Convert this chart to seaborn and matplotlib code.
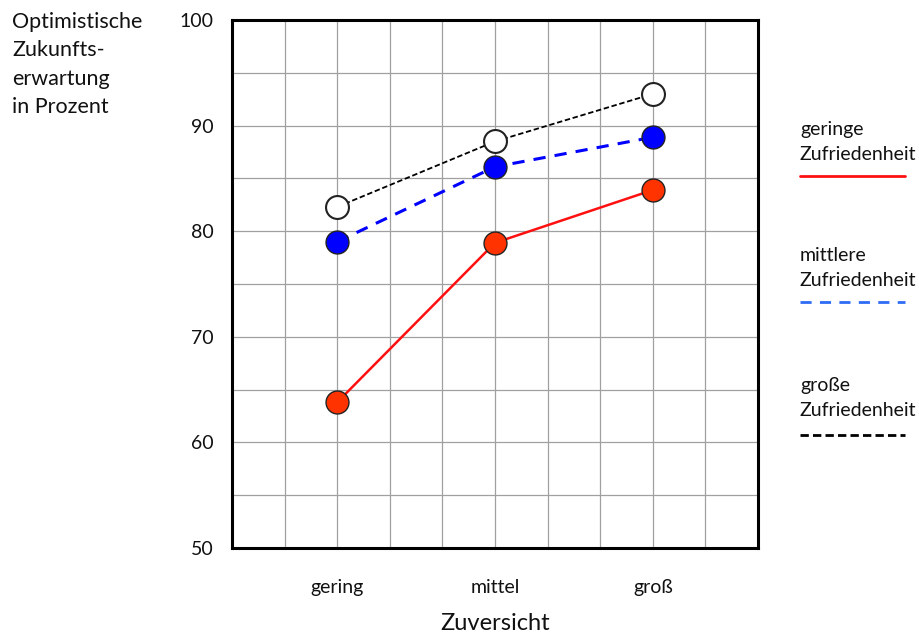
import matplotlib.pyplot as plt
import matplotlib.ticker as mticker
from matplotlib.lines import Line2D
import seaborn as sns

# Daten
kategorien = ["gering", "mittel", "groß"]
geringe_zuf = [63.8, 78.9, 83.9]
mittlere_zuf = [79.0, 86.1, 88.9]
grosse_zuf = [82.3, 88.5, 93.0]
y_ticks = [50, 60, 70, 80, 90, 100]

sns.set_style("white")
plt.rcParams['font.family'] = ['Lato', 'DejaVu Sans']

fig = plt.figure(figsize=(9.2, 6.35), dpi=100)
ax = fig.add_axes([0.2522, 0.137, 0.5717, 0.8315])

# Linien + Punkte
sns.lineplot(x=kategorien, y=grosse_zuf, sort=False, ax=ax, color="black", linestyle=(0, (3, 1.5)),
             linewidth=1.3, marker="o", markersize=16.5, markerfacecolor="white", markeredgecolor="#222222",
             markeredgewidth=1.5, zorder=3)
sns.lineplot(x=kategorien, y=mittlere_zuf, sort=False, ax=ax, color="#0000ff", linestyle=(0, (4, 3)),
             linewidth=2.2, marker="o", markersize=16.5, markerfacecolor="#0000ff", markeredgecolor="#222222",
             markeredgewidth=1.0, zorder=3)
sns.lineplot(x=kategorien, y=geringe_zuf, sort=False, ax=ax, color="#ff1010", linewidth=1.8,
             marker="o", markersize=16.5, markerfacecolor="#ff3300", markeredgecolor="#222222",
             markeredgewidth=1.0, zorder=3)

# Achsen
ax.set_xlim(-2 / 3, 2 + 2 / 3)
ax.set_ylim(50, 100)
ax.set_yticks(y_ticks)
ax.yaxis.set_minor_locator(mticker.MultipleLocator(5))
ax.xaxis.set_minor_locator(mticker.MultipleLocator(1 / 3))
ax.grid(which="both", color="#a0a0a0", linewidth=0.9)
ax.set_axisbelow(True)
ax.tick_params(which="both", length=0, labelsize=14, colors="#111111")
ax.tick_params(axis="y", pad=13)
ax.tick_params(axis="x", pad=22)
for s in ax.spines.values():
    s.set_visible(True)
    s.set_linewidth(2.2)
    s.set_color("black")
ax.set_xlabel("")
ax.set_ylabel("")

# Achsentitel
fig.text(12 / 920, 1 - 12 / 635, "Optimistische\nZukunfts-\nerwartung\nin Prozent", fontsize=15.5,
         ha="left", va="top", linespacing=1.52, color="#111111")
fig.text(495 / 920, 1 - 624 / 635, "Zuversicht", fontsize=17, ha="center", va="center", color="#111111")

# Legende (eigene Darstellung)
leg_items = [("geringe\nZufriedenheit", "#ff1010", "-", 130, 176),
             ("mittlere\nZufriedenheit", "#2f6cf6", (0, (4, 3)), 256, 302),
             ("große\nZufriedenheit", "black", (0, (3, 1.5)), 386, 435)]
for txt, col, ls, ytxt, yline in leg_items:
    fig.text(800 / 920, 1 - (ytxt - 9) / 635, txt, fontsize=14, ha="left", va="top",
             linespacing=1.55, color="#111111")
    yl = 1 - yline / 635
    fig.add_artist(Line2D([800 / 920, 905 / 920], [yl, yl], transform=fig.transFigure,
                          color=col, linestyle=ls, linewidth=2))

plt.savefig("out.png", dpi=100)
